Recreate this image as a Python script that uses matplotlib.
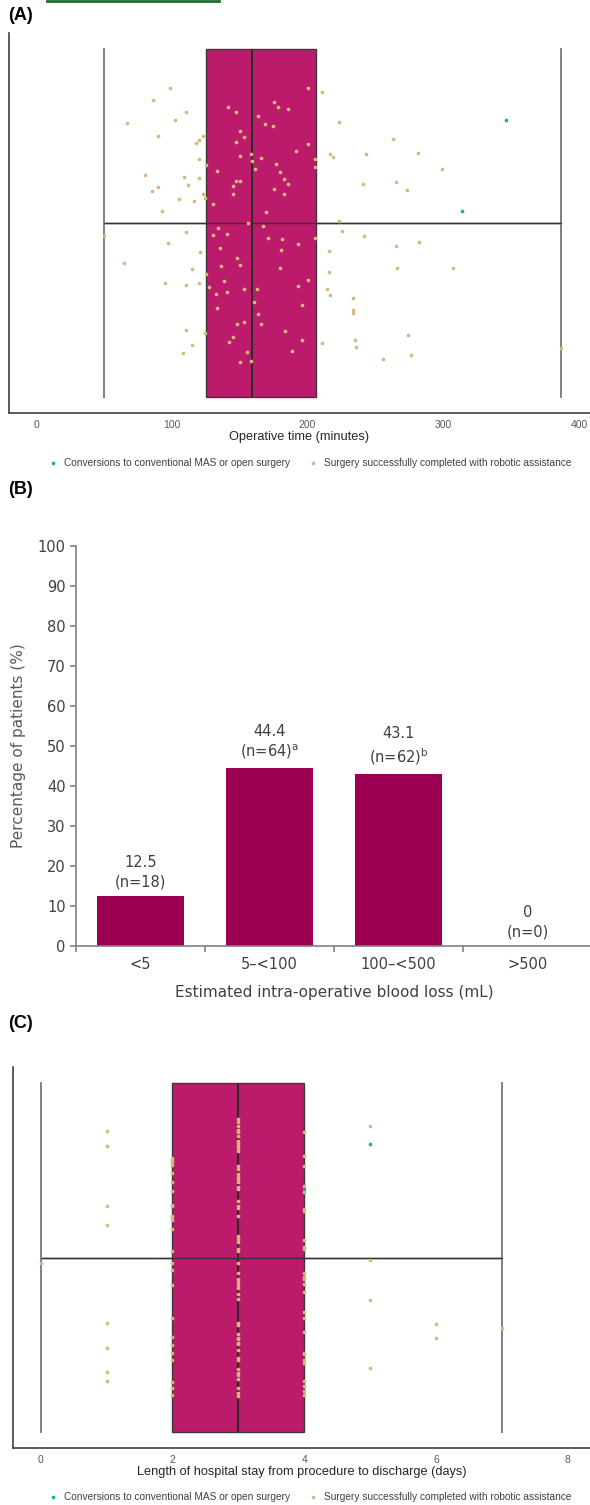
"""
Three-panel outcome figure: operative time, blood loss, length of stay
"""
import matplotlib
matplotlib.use('Agg')  # no display
import matplotlib.pyplot as plt
from matplotlib.lines import Line2D

BOX_PINK = '#BC1A6A'
BAR_PURPLE = '#9C0052'
DOT_TAN = '#D4B97E'
DOT_TEAL = '#14B0A0'
TXT_DARK = '#262626'
TXT_GREY = '#595959'

LEGEND_LABELS = ['Conversions to conventional MAS or open surgery',
                 'Surgery successfully completed with robotic assistance']

# (A) operative time (minutes) with vertical jitter
optime_min = [98.9, 86.2, 67.0, 110.3, 102.4, 90.1, 123.2, 120.3, 118.1, 120.3,
              125.2, 80.1, 109.2, 120.3, 112.2, 90.1, 85.2, 105.1, 123.2, 124.3,
              141.4, 147.3, 150.5, 153.4, 147.3, 150.5, 133.3, 147.3, 150.5, 145.3,
              145.3, 158.4, 159.3, 161.5, 163.3, 168.5, 174.4, 175.5, 178.5, 185.6,
              165.5, 176.6, 179.5, 182.5, 185.6, 175.5, 182.5, 191.5,
              130.4, 116.2, 93.0, 169.4, 49.9, 110.3, 134.3, 156.4, 167.4, 130.4,
              140.5, 170.7, 181.4, 192.8, 97.2, 121.0, 135.3, 180.5, 65.0, 148.3,
              115.1, 136.5, 150.5, 179.5, 125.2, 138.3, 95.0, 110.3, 120.3, 127.4,
              132.4, 140.5, 153.4, 162.6, 192.8, 133.3, 160.4, 163.3, 165.5, 148.3,
              153.4, 110.3, 124.3, 183.6, 145.3, 142.4, 115.1, 188.6, 108.1, 155.4,
              150.5, 158.4,
              200.6, 210.4, 223.0, 263.0, 200.6, 216.8, 218.8, 242.9, 281.2, 205.5,
              205.5, 299.3, 240.9, 265.0, 273.1, 223.0, 225.6, 241.8, 205.5, 282.1,
              265.0, 215.6, 215.6, 265.9, 307.2, 200.6, 214.6, 216.8, 233.7, 233.7,
              233.7, 274.0, 195.7, 195.7, 210.7, 235.0, 235.9, 276.0, 255.8, 386.5]
optime_jit = [0.776, 0.705, 0.576, 0.638, 0.592, 0.498, 0.502, 0.475, 0.458, 0.366,
              0.332, 0.276, 0.263, 0.259, 0.218, 0.207, 0.186, 0.136, 0.165, 0.144,
              0.668, 0.640, 0.527, 0.493, 0.466, 0.385, 0.297, 0.241, 0.240, 0.211,
              0.165, 0.395, 0.355, 0.309, 0.617, 0.571, 0.557, 0.694, 0.667, 0.655,
              0.372, 0.341, 0.291, 0.255, 0.226, 0.194, 0.167, 0.414,
              0.111, 0.126, 0.069, 0.061, -0.076, -0.050, -0.030, -0.002, -0.019, -0.071,
              -0.065, -0.088, -0.090, -0.122, -0.113, -0.167, -0.142, -0.157, -0.232, -0.199,
              -0.263, -0.249, -0.243, -0.259, -0.293, -0.333, -0.345, -0.358, -0.347, -0.366,
              -0.410, -0.398, -0.378, -0.378, -0.364, -0.490, -0.456, -0.521, -0.579, -0.582,
              -0.571, -0.617, -0.630, -0.621, -0.657, -0.682, -0.701, -0.734, -0.745, -0.743,
              -0.801, -0.791,
              0.774, 0.753, 0.582, 0.483, 0.456, 0.398, 0.381, 0.398, 0.401, 0.368,
              0.322, 0.309, 0.222, 0.237, 0.190, 0.013, -0.048, -0.073, -0.084, -0.107,
              -0.134, -0.159, -0.280, -0.257, -0.259, -0.328, -0.379, -0.416, -0.431, -0.498,
              -0.515, -0.644, -0.469, -0.674, -0.688, -0.671, -0.714, -0.760, -0.783, -0.718]
conv_optime_min = [346.4, 314.0]
conv_optime_jit = [0.592, 0.069]
optime_box = dict(whislo=50, q1=125, med=159, q3=206, whishi=387)
optime_ticks = [0, 100, 200, 300, 400]

# (B) estimated intra-operative blood loss
blood_cats = ['<5', '5\u2013<100', '100\u2013<500', '>500']
blood_pct = [12.5, 44.4, 43.1, 0]
blood_n = [18, 64, 62, 0]
blood_note = ['', 'a', 'b', '']

# (C) length of stay (days); jitter per day value
stay_jit_d0 = [-0.034]
stay_jit_d1 = [0.728, 0.640, 0.293, 0.187, -0.376, -0.520, -0.655, -0.707]
stay_jit_d2 = [0.572, 0.559, 0.546, 0.532, 0.483, 0.431, 0.379, 0.302, 0.293, 0.239,
               0.230, 0.214, 0.163, 0.040, -0.034, -0.073, -0.159, -0.345, -0.456, -0.504,
               -0.548, -0.586, -0.713, -0.747, -0.786]
stay_jit_d3 = [0.795, 0.776, 0.756, 0.733, 0.718, 0.699, 0.667, 0.655, 0.641, 0.628,
               0.613, 0.526, 0.507, 0.479, 0.460, 0.450, 0.431, 0.402, 0.393, 0.325,
               0.297, 0.282, 0.239, 0.124, 0.105, 0.086, 0.048, 0.038, -0.029, -0.086,
               -0.125, -0.140, -0.155, -0.172, -0.211, -0.240, -0.374, -0.387, -0.441, -0.460,
               -0.470, -0.488, -0.498, -0.533, -0.575, -0.588, -0.642, -0.661, -0.676, -0.699,
               -0.747, -0.776, -0.795]
stay_jit_d4 = [0.718, 0.584, 0.526, 0.411, 0.374, 0.278, 0.266, 0.103, 0.061, 0.048,
               -0.086, -0.109, -0.125, -0.153, -0.199, -0.313, -0.345, -0.429, -0.546, -0.556,
               -0.588, -0.606, -0.707, -0.734, -0.767, -0.791]
stay_jit_d5 = [0.756, -0.017, -0.245, -0.632]
stay_jit_d6 = [-0.379, -0.462]
stay_jit_d7 = [-0.405]
conv_stay_days = [4, 5]
conv_stay_jit = [0.393, 0.653]
stay_box = dict(whislo=0, q1=2, med=3, q3=4, whishi=7)
stay_ticks = [0, 2, 4, 6, 8]

plt.rcParams['font.family'] = ['Liberation Sans', 'DejaVu Sans']

W, H = 590, 1505
fig = plt.figure(figsize=(W / 100, H / 100), dpi=100)


def px_axes(left, top, right, bottom):
    return fig.add_axes([left / W, 1 - bottom / H, (right - left) / W, (bottom - top) / H])


def box_strip(ax, stats, xs, ys, cxs, cys, xlim, ticks, xlabel):
    ax.bxp([dict(stats, fliers=[])], positions=[0], widths=2.0, capwidths=2.0,
           orientation='horizontal', patch_artist=True, showfliers=False,
           manage_ticks=False,
           boxprops=dict(facecolor=BOX_PINK, edgecolor='#3a3a3a', linewidth=1.0),
           medianprops=dict(color='#2b2b2b', linewidth=1.4),
           whiskerprops=dict(color='#333333', linewidth=1.0),
           capprops=dict(color='#808080', linewidth=1.4))
    ax.hlines(0, stats['whislo'], stats['whishi'], color='#333333', lw=1.0, zorder=3)
    tan = ax.scatter(xs, ys, s=7, color=DOT_TAN, linewidths=0, zorder=4)
    teal = ax.scatter(cxs, cys, s=7, color=DOT_TEAL, linewidths=0, zorder=5)
    ax.set_xlim(*xlim)
    ax.set_ylim(-1.092, 1.092)
    ax.set_yticks([])
    ax.set_xticks(ticks)
    ax.tick_params(axis='x', length=0, pad=5, labelsize=7.5, labelcolor=TXT_GREY)
    for side in ['top', 'right']:
        ax.spines[side].set_visible(False)
    for side in ['left', 'bottom']:
        ax.spines[side].set_color('#404040')
        ax.spines[side].set_linewidth(1.2)
    ax.set_xlabel(xlabel, fontsize=9.2, color=TXT_DARK, labelpad=0.5)
    return teal, tan


def legend_below(handles, y_px):
    fig.legend(handles, LEGEND_LABELS, loc='center', bbox_to_anchor=(0.525, 1 - y_px / H),
               ncol=2, frameon=False, fontsize=7.3, labelcolor='#404040',
               handletextpad=0.6, columnspacing=1.8, handlelength=1.0, scatterpoints=1)


# stray green rule at top of the page
fig.add_artist(Line2D([47 / W, 219 / W], [1 - 0.6 / H] * 2, color='#1e6e2c', lw=2.0))

# ---- (A)
fig.text(8 / W, 1 - 15 / H, '(A)', fontsize=13, fontweight='bold', va='center')
ax_a = px_axes(9, 33, 590, 413)
h = box_strip(ax_a, optime_box, optime_min, optime_jit, conv_optime_min, conv_optime_jit,
              (-19.9, 408.1), optime_ticks, 'Operative time (minutes)')
legend_below(h, 463)

# ---- (B)
fig.text(8 / W, 1 - 490 / H, '(B)', fontsize=13, fontweight='bold', va='center')
ax_b = px_axes(76, 546, 592, 946)
xpos = list(range(len(blood_cats)))
ax_b.bar(xpos, blood_pct, width=0.67, color=BAR_PURPLE)
ax_b.set_xlim(-0.5, len(blood_cats) - 0.5)
ax_b.set_ylim(0, 100)
ax_b.set_yticks(range(0, 101, 10))
ax_b.set_xticks(xpos)
ax_b.set_xticklabels(blood_cats)
ax_b.set_xticks([p - 0.5 for p in xpos] + [xpos[-1] + 0.5], minor=True)
ax_b.tick_params(axis='x', which='major', length=0, pad=8)
ax_b.tick_params(axis='x', which='minor', length=4, width=1.2, color='#808080')
ax_b.tick_params(axis='y', length=4, width=1.2, color='#808080')
ax_b.tick_params(labelsize=10.5, labelcolor='#404040')
for lab in ax_b.get_xticklabels() + ax_b.get_yticklabels():
    lab.set_fontfamily('DejaVu Sans')
for side in ['top', 'right']:
    ax_b.spines[side].set_visible(False)
for side in ['left', 'bottom']:
    ax_b.spines[side].set_color('#808080')
    ax_b.spines[side].set_linewidth(1.2)
for xi, pct, n, note in zip(xpos, blood_pct, blood_n, blood_note):
    sup = r'$^{\mathrm{%s}}$' % note if note else ''
    ax_b.annotate(f'{pct:g}\n(n={n}){sup}', (xi, pct), xytext=(0, 5),
                  textcoords='offset points', ha='center', va='bottom',
                  fontsize=10.5, color='#404040', linespacing=1.3,
                  fontfamily='DejaVu Sans')
ax_b.set_ylabel('Percentage of patients (%)', fontsize=11, color=TXT_GREY,
                fontfamily='DejaVu Sans', labelpad=8)
ax_b.set_xlabel('Estimated intra-operative blood loss (mL)', fontsize=11, color='#404040',
                fontfamily='DejaVu Sans', labelpad=9)

# ---- (C)
fig.text(8 / W, 1 - 1023 / H, '(C)', fontsize=13, fontweight='bold', va='center')
ax_c = px_axes(13, 1067, 590, 1448)
stay_groups = [stay_jit_d0, stay_jit_d1, stay_jit_d2, stay_jit_d3,
               stay_jit_d4, stay_jit_d5, stay_jit_d6, stay_jit_d7]
stay_days, stay_jit = [], []
for day, jits in enumerate(stay_groups):
    stay_days += [day] * len(jits)
    stay_jit += jits
h = box_strip(ax_c, stay_box, stay_days, stay_jit, conv_stay_days, conv_stay_jit,
              (-0.419, 8.337), stay_ticks,
              'Length of hospital stay from procedure to discharge (days)')
legend_below(h, 1497)

fig.savefig('out.png', dpi=100, facecolor='white')
